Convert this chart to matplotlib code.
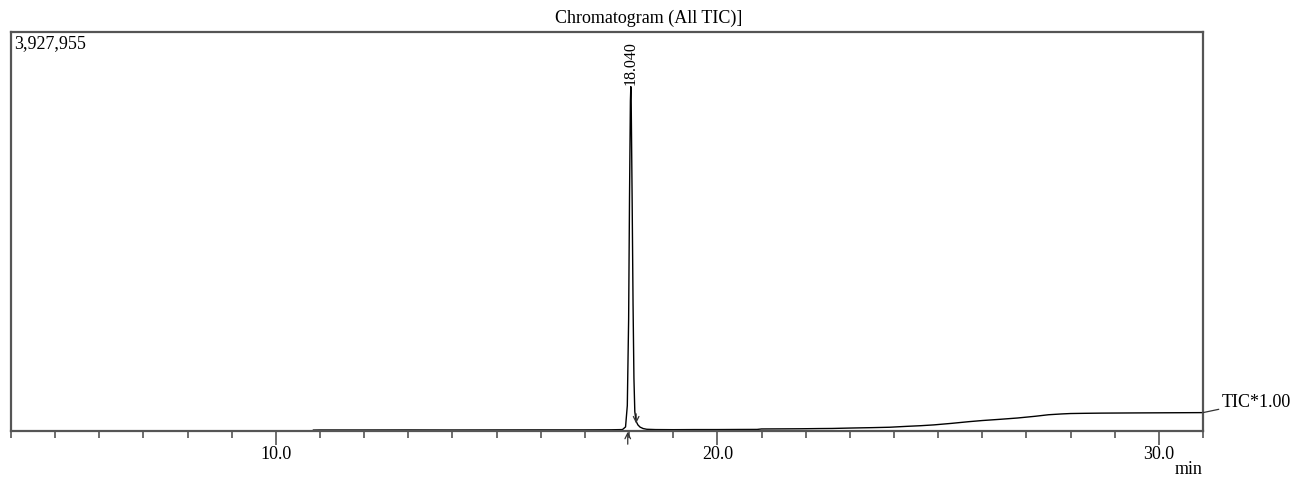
import matplotlib.pyplot as plt
from matplotlib.ticker import MultipleLocator

plt.rcParams['font.family'] = ['Liberation Serif', 'DejaVu Serif']

# TIC trace (time in min, intensity in counts)
time_min = [10.85, 11.0, 12.0, 13.0, 14.0, 15.0, 16.0, 17.0, 17.6, 17.85, 17.92,
            17.96, 17.99, 18.01, 18.03, 18.04, 18.05, 18.07, 18.09, 18.11, 18.13,
            18.16, 18.20, 18.25, 18.32, 18.40, 18.6, 19.0, 19.5, 20.0, 20.5,
            20.9, 21.0, 21.5, 21.9, 22.3, 22.6, 23.0, 23.5, 23.9, 24.3, 24.6,
            24.9, 25.3, 25.7, 26.0, 26.4, 26.8, 27.2, 27.5, 27.8, 28.0, 28.3,
            28.7, 29.1, 29.5, 30.0, 30.5, 31.0]
tic = [9000, 10000, 10000, 10500, 10000, 10500, 11000, 11000, 12000, 14000, 40000,
       250000, 1100000, 2300000, 3250000, 3390000, 3150000, 2250000, 1250000, 520000, 190000,
       95000, 60000, 38000, 24000, 17000, 14000, 13000, 14000, 14000, 15000,
       15500, 20000, 21000, 22000, 24000, 25000, 29000, 33000, 37000, 46000, 52000,
       60000, 75000, 92000, 103000, 115000, 128000, 145000, 160000, 168000, 172000, 174000,
       176000, 177000, 178000, 179000, 180000, 181000]

full_scale = 3927955
peak_rt = 18.040
peak_start = 17.97
peak_end = 18.16
x_lo, x_hi = 4.0, 31.0

fig = plt.figure(figsize=(12.98, 4.81), dpi=100)
ax = fig.add_axes([11 / 1298, 1 - 432 / 481, (1203 - 11) / 1298, (432 - 33) / 481])

ax.plot(time_min, tic, color='black', lw=1.0)

ax.set_xlim(x_lo, x_hi)
ax.set_ylim(0, full_scale)

frame_col = '#555555'
for s in ax.spines.values():
    s.set_color(frame_col)
    s.set_linewidth(1.6)

ax.xaxis.set_major_locator(MultipleLocator(10))
ax.xaxis.set_minor_locator(MultipleLocator(1))
ax.xaxis.set_major_formatter(lambda v, p: f'{v:.1f}')
ax.tick_params(axis='x', which='major', direction='out', length=10, width=1.2,
               color=frame_col, labelsize=13, pad=0)
ax.tick_params(axis='x', which='minor', direction='out', length=5, width=1.2,
               color=frame_col)
ax.set_yticks([])

# title is centred on the page, not on the plot frame
fig.text(0.5, 1 - 18 / 481, 'Chromatogram (All TIC)]', ha='center', va='center',
         fontsize=13)
ax.text(0.003, 0.995, f'{full_scale:,}', transform=ax.transAxes,
        ha='left', va='top', fontsize=13)
ax.text(1.0, -0.072, 'min', transform=ax.transAxes, ha='right', va='top',
        fontsize=13)

# retention time label above the peak
peak_h = tic[time_min.index(peak_rt)]
ax.annotate(f'{peak_rt:.3f}', xy=(peak_rt, peak_h), xytext=(0, 2),
            textcoords='offset points', rotation=90, ha='center', va='bottom',
            fontsize=11.5)

# integration start / end markers
ax.annotate('', xy=(peak_start, 0.005 * full_scale), xytext=(peak_start, -0.04 * full_scale),
            arrowprops=dict(arrowstyle='->', color='#333333', lw=0.9),
            annotation_clip=False)
ax.annotate('', xy=(peak_end, 0.012 * full_scale), xytext=(peak_end, 0.05 * full_scale),
            arrowprops=dict(arrowstyle='->', color='#333333', lw=0.9))

# trace label with leader line
ax.annotate('TIC*1.00', xy=(x_hi, tic[-1]), xytext=(x_hi + 0.42, tic[-1] + 0.028 * full_scale),
            ha='left', va='center', fontsize=13,
            arrowprops=dict(arrowstyle='-', color='#333333', lw=0.9,
                            shrinkA=0, shrinkB=0),
            annotation_clip=False)

fig.savefig('out.png', dpi=100)
